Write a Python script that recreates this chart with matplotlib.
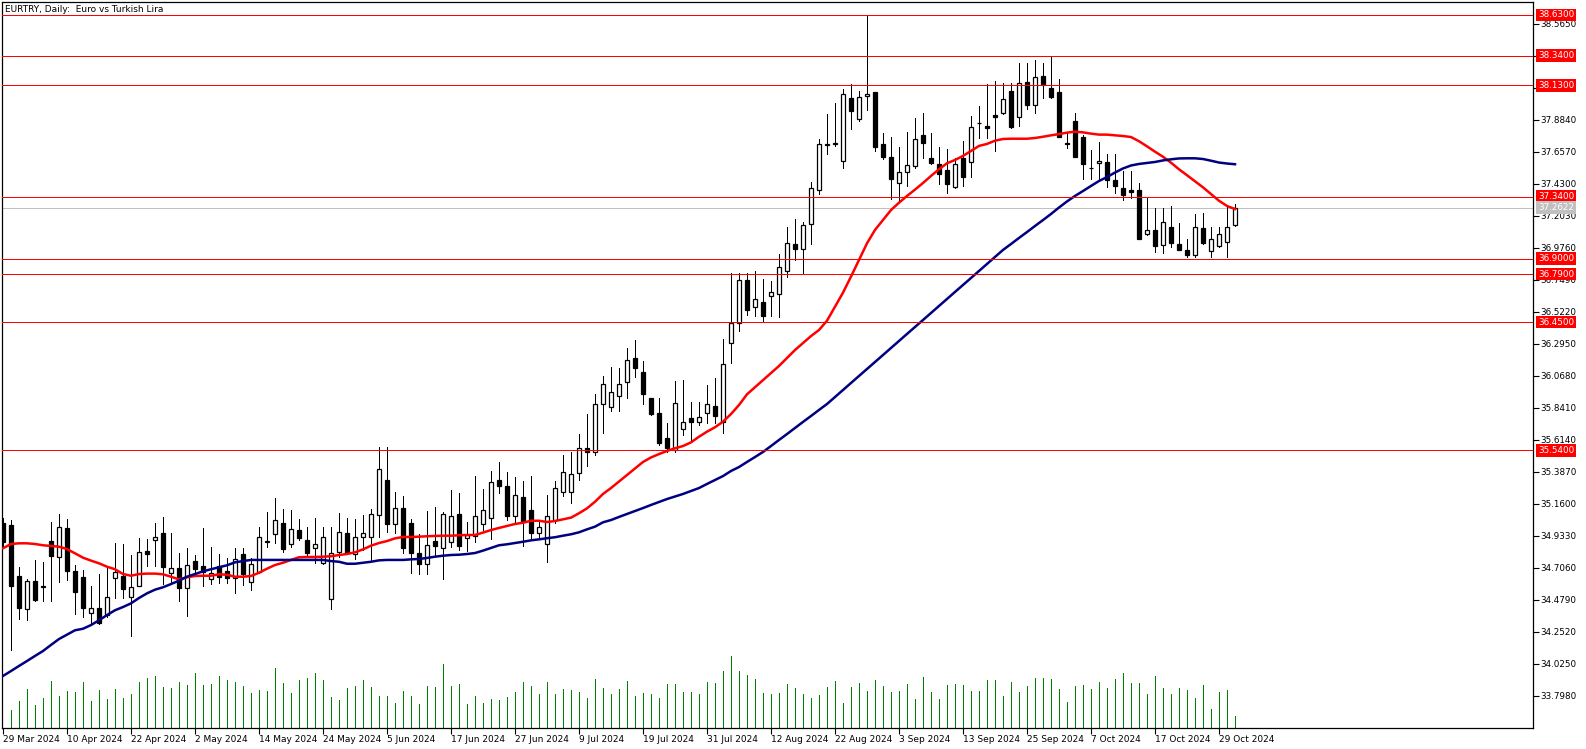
import matplotlib
matplotlib.use('Agg')
import matplotlib.pyplot as plt
import matplotlib.transforms as mtransforms
import numpy as np
import pandas as pd

# daily candles, 29 Mar 2024 .. 31 Oct 2024 (weekdays)
opens = [35.023, 35.009, 34.649, 34.417, 34.614, 34.571, 34.897, 34.782, 34.990, 34.685,
         34.642, 34.384, 34.420, 34.372, 34.633, 34.649, 34.498, 34.580, 34.824, 34.902,
         34.952, 34.668, 34.704, 34.562, 34.755, 34.720, 34.628, 34.720, 34.685, 34.637,
         34.803, 34.609, 34.680, 34.890, 34.945, 35.023, 34.874, 34.975, 34.904, 34.846,
         34.739, 34.484, 34.821, 34.952, 34.803, 34.924, 34.924, 35.082, 35.330, 35.016,
         35.129, 35.023, 34.810, 34.732, 34.895, 34.846, 34.888, 35.087, 34.916, 34.933,
         35.016, 35.058, 35.328, 35.287, 35.075, 35.207, 35.117, 34.952, 34.874, 35.046,
         35.248, 35.245, 35.378, 35.555, 35.526, 35.867, 35.849, 35.928, 36.027, 36.195,
         36.096, 35.910, 35.803, 35.626, 35.543, 35.690, 35.770, 35.744, 35.803, 35.855,
         35.744, 36.300, 36.442, 36.749, 36.555, 36.590, 36.638, 36.647, 36.813, 37.002,
         36.967, 37.144, 37.385, 37.709, 37.713, 37.593, 38.038, 37.889, 38.052, 38.082,
         37.711, 37.621, 37.435, 37.517, 37.559, 37.777, 37.612, 37.570, 37.529, 37.411,
         37.616, 37.584, 37.862, 37.841, 37.919, 37.931, 38.089, 37.903, 38.153, 37.990,
         38.196, 38.109, 38.085, 37.719, 37.877, 37.765, 37.541, 37.579, 37.584, 37.456,
         37.404, 37.387, 37.387, 37.073, 37.103, 36.995, 37.123, 37.004, 36.962, 36.926,
         37.116, 36.957, 36.992, 37.021, 37.139]
highs = [35.060, 35.046, 34.715, 34.630, 34.763, 34.749, 35.032, 35.089, 35.053, 34.727,
         34.692, 34.578, 34.661, 34.704, 34.881, 34.874, 34.798, 34.921, 34.912, 35.023,
         35.065, 34.952, 34.815, 34.846, 34.800, 34.987, 34.853, 34.808, 34.775, 34.846,
         34.850, 34.775, 34.995, 35.103, 35.200, 35.126, 35.117, 35.053, 35.000, 35.058,
         35.000, 34.996, 35.098, 35.058, 35.051, 35.082, 35.124, 35.562, 35.562, 35.248,
         35.220, 35.053, 34.947, 35.112, 35.137, 35.103, 35.259, 35.238, 35.030, 35.358,
         35.264, 35.394, 35.456, 35.385, 35.353, 35.323, 35.358, 35.035, 35.221, 35.323,
         35.505, 35.531, 35.656, 35.799, 35.940, 36.069, 36.134, 36.122, 36.265, 36.323,
         36.176, 35.915, 35.910, 35.732, 36.032, 36.040, 35.885, 35.885, 36.004, 36.056,
         36.328, 36.800, 36.800, 36.800, 36.810, 36.756, 36.742, 36.933, 37.125, 37.181,
         37.160, 37.442, 37.749, 37.926, 38.002, 38.106, 38.139, 38.092, 38.629, 38.085,
         37.789, 37.763, 37.692, 37.799, 37.896, 37.935, 37.789, 37.690, 37.678, 37.612,
         37.737, 37.912, 37.983, 38.139, 38.161, 38.144, 38.144, 38.286, 38.286, 38.309,
         38.290, 38.338, 38.172, 37.801, 37.935, 37.780, 37.671, 37.726, 37.643, 37.643,
         37.522, 37.522, 37.435, 37.340, 37.257, 37.257, 37.274, 37.151, 37.039, 37.217,
         37.222, 37.127, 37.127, 37.264, 37.286]
lows = [34.850, 34.124, 34.346, 34.337, 34.475, 34.474, 34.474, 34.609, 34.621, 34.382,
        34.361, 34.302, 34.310, 34.360, 34.495, 34.491, 34.226, 34.575, 34.722, 34.720,
        34.592, 34.595, 34.474, 34.367, 34.660, 34.580, 34.592, 34.597, 34.602, 34.531,
        34.585, 34.550, 34.668, 34.853, 34.881, 34.821, 34.857, 34.904, 34.798, 34.739,
        34.735, 34.413, 34.786, 34.805, 34.770, 34.834, 34.763, 34.928, 34.963, 34.952,
        34.810, 34.672, 34.661, 34.663, 34.798, 34.626, 34.857, 34.834, 34.829, 34.892,
        34.975, 34.909, 35.236, 35.046, 35.035, 34.862, 34.904, 34.928, 34.746, 35.023,
        35.216, 35.165, 35.330, 35.432, 35.510, 35.665, 35.818, 35.818, 35.910, 36.063,
        35.869, 35.793, 35.578, 35.531, 35.531, 35.650, 35.602, 35.718, 35.732, 35.732,
        35.665, 36.158, 36.387, 36.498, 36.490, 36.453, 36.496, 36.484, 36.772, 36.891,
        36.796, 37.002, 37.357, 37.640, 37.699, 37.545, 37.822, 37.879, 37.955, 37.666,
        37.607, 37.325, 37.304, 37.416, 37.540, 37.616, 37.570, 37.430, 37.364, 37.400,
        37.416, 37.477, 37.758, 37.754, 37.666, 37.925, 37.830, 37.843, 37.960, 37.935,
        38.038, 38.040, 37.760, 37.683, 37.620, 37.463, 37.463, 37.465, 37.411, 37.368,
        37.317, 37.328, 37.042, 37.065, 36.950, 36.938, 36.985, 36.962, 36.910, 36.910,
        37.005, 36.910, 36.985, 36.910, 37.135]
closes = [34.892, 34.580, 34.424, 34.614, 34.481, 34.575, 34.793, 34.995, 34.687, 34.538,
          34.420, 34.420, 34.318, 34.498, 34.680, 34.555, 34.569, 34.821, 34.807, 34.924,
          34.711, 34.704, 34.562, 34.725, 34.701, 34.680, 34.668, 34.644, 34.633, 34.768,
          34.663, 34.732, 34.928, 34.895, 35.044, 34.839, 34.980, 34.916, 34.814, 34.874,
          34.924, 34.810, 34.959, 34.814, 34.928, 34.952, 35.087, 35.406, 35.016, 35.129,
          34.846, 34.810, 34.732, 34.867, 34.864, 35.087, 35.072, 34.864, 34.940, 35.077,
          35.115, 35.314, 35.285, 35.077, 35.221, 35.035, 34.952, 35.000, 35.077, 35.271,
          35.385, 35.371, 35.555, 35.526, 35.867, 36.008, 35.955, 36.008, 36.181, 36.122,
          35.940, 35.795, 35.590, 35.555, 35.874, 35.739, 35.744, 35.775, 35.867, 35.786,
          36.151, 36.442, 36.749, 36.536, 36.612, 36.490, 36.662, 36.843, 37.009, 36.971,
          37.137, 37.403, 37.711, 37.714, 37.718, 38.070, 37.950, 38.045, 38.066, 37.694,
          37.623, 37.463, 37.517, 37.562, 37.749, 37.723, 37.581, 37.499, 37.430, 37.570,
          37.482, 37.832, 37.866, 37.825, 37.907, 38.031, 37.836, 38.144, 37.990, 38.187,
          38.132, 38.049, 37.765, 37.715, 37.623, 37.574, 37.545, 37.593, 37.459, 37.416,
          37.350, 37.375, 37.042, 37.103, 36.992, 37.158, 37.009, 36.962, 36.926, 37.123,
          37.009, 37.037, 37.073, 37.123, 37.2622]

# moving averages as shown on the chart (red = fast, navy = slow)
ma_fast = [34.846, 34.876, 34.881, 34.881, 34.876, 34.867, 34.862, 34.857, 34.840, 34.810,
           34.779, 34.758, 34.739, 34.715, 34.697, 34.663, 34.651, 34.663, 34.666, 34.666,
           34.661, 34.644, 34.625, 34.640, 34.649, 34.651, 34.651, 34.661, 34.658, 34.644,
           34.644, 34.649, 34.672, 34.701, 34.727, 34.743, 34.763, 34.782, 34.784, 34.784,
           34.786, 34.789, 34.798, 34.805, 34.817, 34.838, 34.864, 34.883, 34.897, 34.916,
           34.926, 34.926, 34.928, 34.931, 34.933, 34.935, 34.935, 34.938, 34.940, 34.940,
           34.957, 34.975, 34.990, 35.004, 35.018, 35.027, 35.041, 35.041, 35.032, 35.039,
           35.051, 35.063, 35.094, 35.129, 35.176, 35.231, 35.273, 35.319, 35.365, 35.412,
           35.458, 35.490, 35.514, 35.536, 35.555, 35.571, 35.597, 35.637, 35.673, 35.704,
           35.744, 35.798, 35.862, 35.938, 35.988, 36.039, 36.089, 36.139, 36.196, 36.252,
           36.302, 36.351, 36.394, 36.460, 36.560, 36.659, 36.773, 36.891, 37.009, 37.104,
           37.174, 37.245, 37.297, 37.345, 37.390, 37.437, 37.487, 37.534, 37.577, 37.600,
           37.629, 37.664, 37.700, 37.714, 37.737, 37.749, 37.751, 37.751, 37.751, 37.756,
           37.765, 37.775, 37.784, 37.794, 37.801, 37.796, 37.787, 37.780, 37.780, 37.775,
           37.770, 37.763, 37.733, 37.697, 37.659, 37.623, 37.581, 37.534, 37.492, 37.449,
           37.406, 37.359, 37.311, 37.274, 37.252]
ma_slow = [33.940, 33.975, 34.011, 34.046, 34.082, 34.117, 34.160, 34.202, 34.233, 34.264,
           34.275, 34.301, 34.335, 34.372, 34.406, 34.429, 34.455, 34.493, 34.526, 34.552,
           34.569, 34.592, 34.616, 34.644, 34.663, 34.682, 34.697, 34.711, 34.725, 34.746,
           34.755, 34.763, 34.763, 34.763, 34.763, 34.763, 34.763, 34.763, 34.763, 34.763,
           34.763, 34.755, 34.750, 34.736, 34.736, 34.743, 34.750, 34.760, 34.763, 34.763,
           34.763, 34.767, 34.770, 34.777, 34.786, 34.793, 34.798, 34.800, 34.805, 34.812,
           34.829, 34.848, 34.867, 34.874, 34.883, 34.892, 34.902, 34.909, 34.917, 34.924,
           34.935, 34.945, 34.959, 34.980, 34.999, 35.030, 35.046, 35.068, 35.089, 35.110,
           35.131, 35.153, 35.174, 35.195, 35.213, 35.231, 35.252, 35.273, 35.302, 35.330,
           35.358, 35.394, 35.422, 35.458, 35.493, 35.529, 35.571, 35.614, 35.656, 35.699,
           35.742, 35.784, 35.827, 35.869, 35.919, 35.969, 36.018, 36.068, 36.117, 36.167,
           36.217, 36.266, 36.316, 36.366, 36.415, 36.465, 36.515, 36.564, 36.614, 36.664,
           36.713, 36.763, 36.813, 36.862, 36.912, 36.962, 37.004, 37.047, 37.089, 37.132,
           37.174, 37.217, 37.263, 37.306, 37.345, 37.380, 37.416, 37.451, 37.479, 37.511,
           37.540, 37.561, 37.572, 37.579, 37.586, 37.597, 37.605, 37.611, 37.612, 37.612,
           37.607, 37.595, 37.582, 37.575, 37.570]

# tick volume (relative)
volumes = [90, 55, 82, 118, 70, 91, 142, 97, 112, 109, 139, 82, 115, 88, 118, 91, 103, 139, 151, 157,
           124, 121, 139, 130, 166, 130, 133, 157, 145, 139, 127, 106, 115, 112, 181, 136, 106, 145, 151, 166,
           145, 94, 85, 121, 127, 145, 124, 97, 97, 76, 112, 97, 73, 127, 124, 193, 127, 133, 73, 97,
           76, 88, 85, 94, 109, 139, 127, 103, 139, 103, 118, 115, 109, 91, 148, 121, 103, 118, 142, 97,
           106, 103, 91, 133, 133, 109, 109, 103, 139, 136, 172, 217, 172, 160, 148, 106, 103, 106, 133, 121,
           103, 91, 100, 124, 142, 76, 124, 136, 112, 145, 127, 109, 112, 133, 88, 154, 109, 88, 130, 133,
           130, 112, 112, 145, 145, 97, 139, 109, 127, 151, 151, 148, 118, 79, 127, 130, 118, 139, 121, 148,
           166, 136, 136, 103, 157, 121, 103, 121, 115, 91, 130, 58, 109, 115, 37]

levels = [38.63, 38.34, 38.13, 37.34, 36.90, 36.79, 36.45, 35.54]
last_price = 37.2622
price_ticks = [33.798, 34.025, 34.252, 34.479, 34.706, 34.933, 35.160, 35.387, 35.614, 35.841,
               36.068, 36.295, 36.522, 36.749, 36.976, 37.203, 37.430, 37.657, 37.884, 38.111,
               38.338, 38.565]

dates = pd.bdate_range('2024-03-29', periods=len(closes))

W, H = 1586, 749
PX = 0.72  # one pixel in points at 100 dpi
fig = plt.figure(figsize=(W / 100, H / 100), dpi=100)
rect = [2 / W, 21 / H, 1531 / W, 726 / H]

# volume sits in its own axes under the price axes
axv = fig.add_axes(rect)
axv.set_axis_off()
ax = fig.add_axes(rect)
ax.patch.set_alpha(0)

x = np.arange(len(closes))
o = np.array(opens)
c = np.array(closes)
up = c >= o

axv.vlines(x[1:], 0, volumes[1:], color='#008000', lw=PX, antialiased=False)
axv.set_xlim(-0.125, 191.25)
axv.set_ylim(0, 2188)

ax.vlines(x, lows, highs, color='black', lw=PX, zorder=3, antialiased=False)
body = np.maximum(np.abs(c - o), 0.004)
ax.bar(x[up], body[up], bottom=o[up], width=0.62, color='white',
       edgecolor='black', lw=0.9, zorder=4)
ax.bar(x[~up], body[~up], bottom=c[~up], width=0.62, color='black',
       edgecolor='black', lw=0.9, zorder=4)

ax.plot(x, ma_fast, color='#FF0000', lw=1.8, zorder=5)
ax.plot(x, ma_slow, color='#000080', lw=1.8, zorder=5)

for lvl in levels:
    ax.axhline(lvl, color='#FF0000', lw=PX, zorder=6, antialiased=False)
ax.axhline(last_price, color='#C0C0C0', lw=PX, zorder=2, antialiased=False)

ax.set_xlim(-0.125, 191.25)
ax.set_ylim(33.5708, 38.7208)

ax.yaxis.tick_right()
ax.set_yticks(price_ticks)
ax.set_yticklabels([f'{v:.4f}' for v in price_ticks])
ax.tick_params(axis='y', direction='out', length=4, width=0.8, pad=1, labelsize=6.3)

xt = x[::8]
ax.set_xticks(xt)
ax.set_xticklabels([f'{dates[i].day} {dates[i]:%b %Y}' for i in xt])
ax.tick_params(axis='x', direction='out', length=4, width=0.8, pad=1, labelsize=6.5)
for lbl in ax.get_xticklabels():
    lbl.set_ha('left')

for sp in ax.spines.values():
    sp.set_linewidth(0.9)
    sp.set_color('black')

trans = mtransforms.blended_transform_factory(ax.transAxes, ax.transData)
for lvl in levels:
    ax.annotate(f'{lvl:.4f}', xy=(1, lvl), xycoords=trans, xytext=(5, 0),
                textcoords='offset pixels', ha='left', va='center', color='white',
                fontsize=6.3, annotation_clip=False, zorder=10,
                bbox=dict(boxstyle='square,pad=0.2', fc='#FF0000', ec='none'))
ax.annotate(f'{last_price:.4f}', xy=(1, last_price), xycoords=trans, xytext=(5, 0),
            textcoords='offset pixels', ha='left', va='center', color='white',
            fontsize=6.3, annotation_clip=False, zorder=10,
            bbox=dict(boxstyle='square,pad=0.2', fc='#C0C0C0', ec='none'))

fig.text(5 / W, 1 - 9 / H, 'EURTRY, Daily:  Euro vs Turkish Lira', fontsize=6.5,
         va='center', ha='left')

fig.savefig('out.png', dpi=100)
